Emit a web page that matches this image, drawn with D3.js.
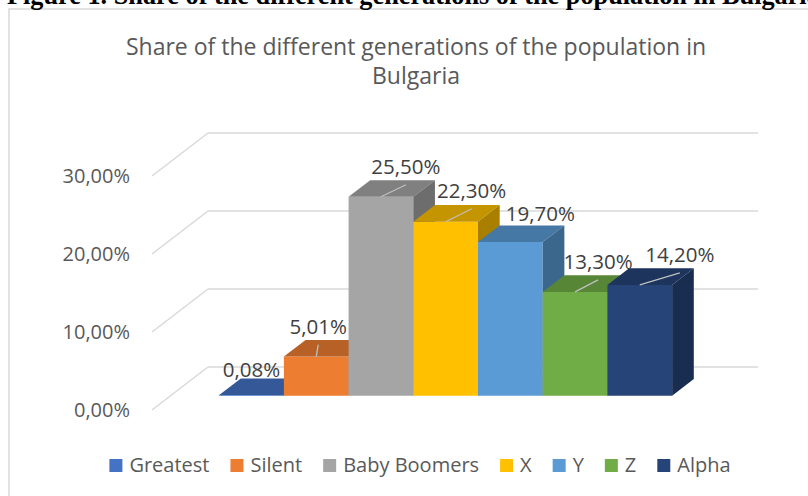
<!DOCTYPE html>
<html>
<head>
<meta charset="utf-8">
<script src="https://cdn.jsdelivr.net/npm/d3@7"></script>
<style>
  body { margin: 0; background: #fff; }
  svg { display: block; }
</style>
</head>
<body>
<div id="chart"></div>
<script>
const categories = ["Greatest", "Silent", "Baby Boomers", "X", "Y", "Z", "Alpha"];
const shares = [0.08, 5.01, 25.5, 22.3, 19.7, 13.3, 14.2];
const colors = ["#4472C4", "#ED7D31", "#A5A5A5", "#FFC000", "#5B9BD5", "#70AD47", "#264478"];
const yTicks = [0, 10, 20, 30];
const titleLines = ["Share of the different generations of the population in", "Bulgaria"];
const caption = "Figure 1. Share of the different generations of the population in Bulgaria";

const W = 808, H = 496;
const font = "'Open Sans', sans-serif";
const textColor = "#595959";

// oblique depth of the plot box (front plane -> back wall)
const DX = 56, DY = -43;
const d0 = 0.333, d1 = 0.72;

// label nudges relative to the top-front centre of each bar
const labelShift = [[0, -25], [2, -30], [25, -30], [26, -31], [30, -28], [23, -30], [40, -30]];
const showLeader = [false, true, true, true, false, true, true];

const fmt = v => d3.format(".2f")(v).replace(".", ",") + "%";

const svg = d3.select("#chart").append("svg")
  .attr("width", W)
  .attr("height", H);

// chart frame
svg.append("rect")
  .attr("x", 9).attr("y", 9)
  .attr("width", W + 20).attr("height", H + 20)
  .attr("fill", "#fff")
  .attr("stroke", "#D9D9D9")
  .attr("stroke-width", 1.5);

// figure caption, cut off at the top like in the page it was taken from
const cap = svg.append("text")
  .attr("x", 7).attr("y", 4)
  .style("font-family", "'Liberation Serif', 'Times New Roman', serif")
  .style("font-weight", "bold")
  .style("font-size", "20px")
  .attr("fill", "#000")
  .text(caption);
const probe = svg.append("text")
  .style("font-family", "'Liberation Serif', 'Times New Roman', serif")
  .style("font-weight", "bold")
  .style("font-size", "20px")
  .text(caption.slice(0, -1));
const capLen = probe.node().getComputedTextLength();
probe.remove();
cap.style("font-size", (20 * 800 / capLen) + "px");

// title
svg.append("text")
  .attr("text-anchor", "middle")
  .style("font-family", font)
  .style("font-size", "23px")
  .attr("fill", textColor)
  .selectAll("tspan")
  .data(titleLines)
  .join("tspan")
  .attr("x", 416)
  .attr("y", (d, i) => 55 + i * 29)
  .text(d => d);

const x = d3.scaleBand()
  .domain(categories)
  .range([152, 702])
  .paddingInner(0)
  .paddingOuter(0.75);

const y = d3.scaleLinear()
  .domain([0, 30])
  .range([410, 176]);

const P = (px, v, d) => [px + d * DX, y(v) + d * DY];
const poly = pts => pts.map(p => p.join(",")).join(" ");

// gridlines: back wall + left wall
const grid = svg.append("g")
  .attr("stroke", "#D9D9D9")
  .attr("stroke-width", 1.5)
  .attr("fill", "none");
yTicks.forEach(t => {
  const [x0, x1] = x.range();
  grid.append("line")
    .attr("x1", P(x0, t, 1)[0]).attr("y1", P(x0, t, 1)[1])
    .attr("x2", P(x1, t, 1)[0]).attr("y2", P(x1, t, 1)[1]);
  grid.append("line")
    .attr("x1", P(x0, t, 0)[0]).attr("y1", P(x0, t, 0)[1])
    .attr("x2", P(x0, t, 1)[0]).attr("y2", P(x0, t, 1)[1]);
});

// y axis labels
const yAxis = svg.append("g")
  .attr("transform", "translate(136,0)")
  .call(d3.axisLeft(y).tickValues(yTicks).tickSize(0).tickPadding(6).tickFormat(fmt));
yAxis.select(".domain").remove();
yAxis.selectAll("text")
  .style("font-family", font)
  .style("font-size", "20px")
  .attr("fill", textColor);

// 3D bars
const bars = svg.append("g");
categories.forEach((c, i) => {
  const v = shares[i];
  const a = x(c), b = a + x.bandwidth();
  const col = d3.color(colors[i]);
  const g = bars.append("g");
  g.append("polygon")
    .attr("points", poly([P(a, 0, d0), P(b, 0, d0), P(b, v, d0), P(a, v, d0)]))
    .attr("fill", col.formatHex());
  g.append("polygon")
    .attr("points", poly([P(a, v, d0), P(b, v, d0), P(b, v, d1), P(a, v, d1)]))
    .attr("fill", col.darker(0.72).formatHex());
  g.append("polygon")
    .attr("points", poly([P(b, 0, d0), P(b, 0, d1), P(b, v, d1), P(b, v, d0)]))
    .attr("fill", col.darker(1.15).formatHex());
});

// leader lines and data labels
categories.forEach((c, i) => {
  const v = shares[i];
  const [cx, cy] = P(x(c) + x.bandwidth() / 2, v, d0);
  const [sx, sy] = labelShift[i];
  if (showLeader[i]) {
    svg.append("line")
      .attr("x1", cx).attr("y1", cy)
      .attr("x2", cx + sx).attr("y2", cy + sy + 18)
      .attr("stroke", "#BFBFBF")
      .attr("stroke-width", 1.3);
  }
  svg.append("text")
    .attr("x", cx + sx)
    .attr("y", cy + sy)
    .attr("dy", "0.35em")
    .attr("text-anchor", "middle")
    .style("font-family", font)
    .style("font-size", "20.5px")
    .attr("fill", "#404040")
    .text(fmt(v));
});

// legend
const legend = svg.append("g");
let lx = 0;
categories.forEach((c, i) => {
  const item = legend.append("g").attr("transform", `translate(${lx},0)`);
  item.append("rect")
    .attr("x", 0).attr("y", -13)
    .attr("width", 13).attr("height", 13)
    .attr("fill", colors[i]);
  const t = item.append("text")
    .attr("x", 20).attr("y", 0)
    .style("font-family", font)
    .style("font-size", "20px")
    .attr("fill", textColor)
    .text(c);
  lx += 20 + t.node().getComputedTextLength() + 21;
});
const legendW = lx - 21;
legend.attr("transform", `translate(${420 - legendW / 2},472)`);
</script>
</body>
</html>
